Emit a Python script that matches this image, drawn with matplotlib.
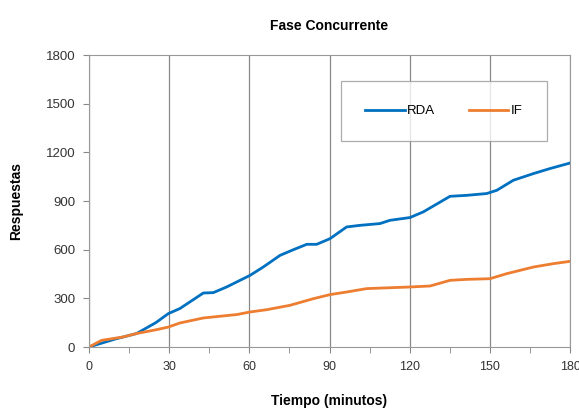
import numpy as np
import matplotlib.pyplot as plt

plt.rcParams['font.family'] = ['Liberation Sans Narrow', 'Liberation Sans', 'DejaVu Sans']

# datos
t_rda = [0, 5, 10, 17.8, 25, 29.7, 34, 42.8, 46.5, 51.5, 60.3, 65.2, 71.5, 76.5, 81.5, 85.2,
         90.2, 96.4, 101.4, 108.9, 112.6, 120.1, 125.1, 135.1, 141.4, 148.8, 152.6, 158.8,
         166.3, 172.5, 180]
rda = [0, 25, 50, 83, 150, 206, 237, 333, 335, 370, 442, 493, 565, 600, 633, 633,
       668, 740, 750, 761, 781, 798, 833, 929, 935, 946, 966, 1028, 1069, 1100, 1134]

t_if = [0, 4.7, 12.8, 17.8, 25.3, 29.7, 34, 42.8, 55.3, 60.3, 66.5, 75.2, 84, 90.2, 96.4,
        103.9, 120.1, 127.6, 135.1, 141.4, 150, 156.3, 166.3, 173.8, 180]
if_vals = [0, 41, 62, 83, 107, 123, 148, 179, 200, 216, 230, 257, 298, 323, 339,
           360, 370, 376, 411, 417, 421, 452, 493, 514, 528]

xticks = [0, 30, 60, 90, 120, 150, 180]
yticks = [0, 300, 600, 900, 1200, 1500, 1800]

fig = plt.figure(figsize=(5.79, 4.13), dpi=100)
ax = fig.add_axes([0.1537, 0.1598, 0.8308, 0.707])

ax.plot(t_rda, rda, color='#0070C0', lw=2.0, label='RDA')
ax.plot(t_if, if_vals, color='#ED7D31', lw=2.0, label='IF')

ax.set_xlim(0, 180)
ax.set_ylim(0, 1800)
ax.set_xticks(xticks)
ax.set_yticks(yticks)
ax.set_xticks(np.arange(0, 181, 15), minor=True)
ax.tick_params(axis='both', labelsize=9.5, colors='#333333', length=4, direction='out', pad=6)
ax.tick_params(axis='x', labelsize=9)
ax.tick_params(axis='x', which='minor', length=4, color='#888888')
ax.tick_params(axis='both', which='major', color='#888888')
ax.grid(axis='x', color='#888888', lw=0.9)
for s in ax.spines.values():
    s.set_color('#999999')

ax.set_title('Fase Concurrente', fontsize=10, fontweight='bold', pad=18)
ax.set_xlabel('Tiempo (minutos)', fontsize=10, fontweight='bold', labelpad=15)
ax.set_ylabel('Respuestas', fontsize=10, fontweight='bold', labelpad=16)

leg = ax.legend(loc='center', bbox_to_anchor=(0.511, 0.703, 0.454, 0.209), mode='expand',
                ncol=2, fancybox=False, fontsize=9.5, handlelength=3.0, borderpad=1.8,
                handletextpad=0.2, columnspacing=2.5)
leg.get_frame().set_edgecolor('#999999')
leg.get_frame().set_linewidth(0.9)

plt.savefig('out.png')
